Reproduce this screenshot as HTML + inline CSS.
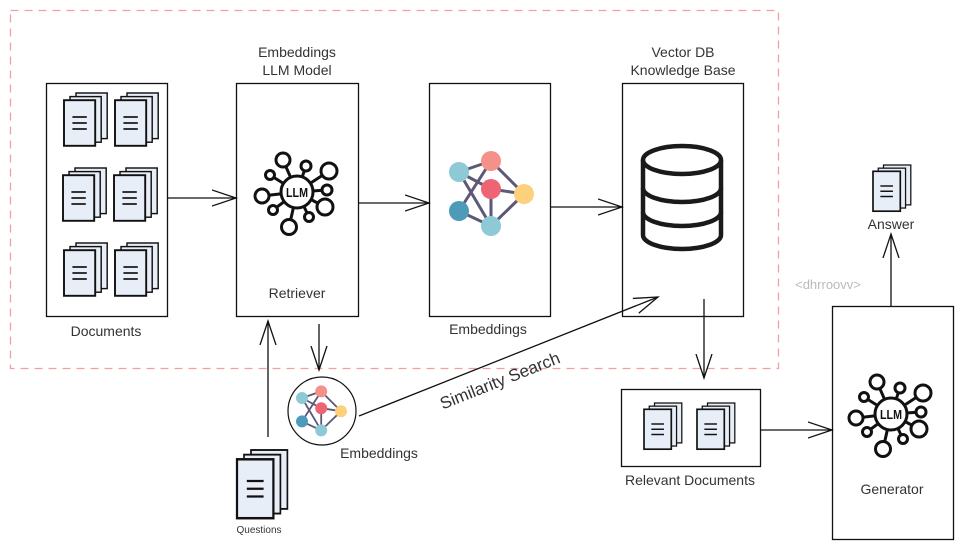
<!DOCTYPE html>
<html><head><meta charset="utf-8"><style>
html,body{margin:0;padding:0;background:#fff;}
svg{display:block;font-family:"Liberation Sans",sans-serif;}
</style></head><body>
<svg width="963" height="558" viewBox="0 0 963 558" xmlns="http://www.w3.org/2000/svg">
<defs>
<g id="doc">
  <rect x="10" y="0" width="26" height="38" fill="#e8eef7" stroke="#111" stroke-width="1.2"/>
  <rect x="5" y="3" width="26" height="38" fill="#e8eef7" stroke="#111" stroke-width="1.2"/>
  <rect x="0" y="6" width="26" height="38" fill="#e8eef7" stroke="#111" stroke-width="1.6"/>
  <line x1="7" y1="20" x2="19" y2="20" stroke="#111" stroke-width="1.4"/>
  <line x1="7" y1="25" x2="19" y2="25" stroke="#111" stroke-width="1.4"/>
  <line x1="7" y1="30" x2="19" y2="30" stroke="#111" stroke-width="1.4"/>
</g>
<g id="llm" fill="none" stroke="#111" stroke-width="3">
  <line x1="0" y1="0" x2="-14" y2="-32"/><line x1="0" y1="0" x2="9" y2="-26"/>
  <line x1="0" y1="0" x2="32" y2="-21"/><line x1="0" y1="0" x2="30" y2="-2"/>
  <line x1="0" y1="0" x2="28" y2="15"/><line x1="0" y1="0" x2="12" y2="25"/>
  <line x1="0" y1="0" x2="-8" y2="35"/><line x1="0" y1="0" x2="-24" y2="18"/>
  <line x1="0" y1="0" x2="-35" y2="4"/><line x1="0" y1="0" x2="-27" y2="-17"/>
  <circle r="16" fill="#fff"/>
  <circle cx="-14" cy="-32" r="7" fill="#fff"/><circle cx="9" cy="-26" r="5" fill="#fff"/>
  <circle cx="32" cy="-21" r="8" fill="#fff"/><circle cx="30" cy="-2" r="5" fill="#fff"/>
  <circle cx="28" cy="15" r="8" fill="#fff"/><circle cx="12" cy="25" r="4.5" fill="#fff"/>
  <circle cx="-8" cy="35" r="7.5" fill="#fff"/><circle cx="-24" cy="18" r="4.5" fill="#fff"/>
  <circle cx="-35" cy="4" r="7" fill="#fff"/><circle cx="-27" cy="-17" r="4.5" fill="#fff"/>
  <text x="0" y="5" text-anchor="middle" font-size="13" font-weight="bold" fill="#111" stroke="none" textLength="22" lengthAdjust="spacingAndGlyphs">LLM</text>
</g>
<g id="emb">
  <g stroke="#5e5878" stroke-width="3">
    <line x1="0" y1="0" x2="32" y2="-11"/><line x1="0" y1="0" x2="32" y2="17"/>
    <line x1="32" y1="-11" x2="0" y2="39"/><line x1="32" y1="-11" x2="65" y2="22"/>
    <line x1="32" y1="17" x2="65" y2="22"/><line x1="32" y1="17" x2="32" y2="54"/>
    <line x1="0" y1="39" x2="32" y2="54"/><line x1="32" y1="54" x2="65" y2="22"/>
    <line x1="0" y1="0" x2="32" y2="54"/>
  </g>
  <circle cx="0" cy="0" r="10" fill="#8ecad6"/>
  <circle cx="32" cy="-11" r="10" fill="#f4928a"/>
  <circle cx="32" cy="17" r="10" fill="#ef6474"/>
  <circle cx="65" cy="22" r="10" fill="#fdd07c"/>
  <circle cx="0" cy="39" r="10" fill="#4d9bb8"/>
  <circle cx="32" cy="54" r="10" fill="#8ecad6"/>
</g>
<marker id="ar" markerWidth="26" markerHeight="18" refX="24" refY="9" orient="auto" markerUnits="userSpaceOnUse">
  <path d="M0,1 L24,9 L0,17" fill="none" stroke="#111" stroke-width="1.3"/>
</marker>
</defs>

<rect x="10.5" y="10.5" width="768" height="358" fill="none" stroke="#f0a0a0" stroke-width="1.3" stroke-dasharray="8,6"/>

<rect x="46.5" y="83.5" width="121" height="233" fill="none" stroke="#111" stroke-width="1.3"/>
<rect x="236.5" y="83.5" width="122" height="233" fill="none" stroke="#111" stroke-width="1.3"/>
<rect x="429.5" y="83.5" width="121" height="233" fill="none" stroke="#111" stroke-width="1.3"/>
<rect x="622.5" y="83.5" width="121" height="233" fill="none" stroke="#111" stroke-width="1.3"/>
<rect x="621.5" y="389.5" width="139" height="77" fill="none" stroke="#111" stroke-width="1.3"/>
<rect x="832.5" y="306.5" width="121" height="233" fill="none" stroke="#111" stroke-width="1.3"/>

<use href="#doc" transform="translate(64 93) scale(1.2)"/>
<use href="#doc" transform="translate(115 93) scale(1.2)"/>
<use href="#doc" transform="translate(63 168) scale(1.2)"/>
<use href="#doc" transform="translate(114 168) scale(1.2)"/>
<use href="#doc" transform="translate(64 243) scale(1.2)"/>
<use href="#doc" transform="translate(115 243) scale(1.2)"/>
<use href="#doc" transform="translate(644 403) scale(1.05)"/>
<use href="#doc" transform="translate(697 403) scale(1.05)"/>
<use href="#doc" transform="translate(873 165) scale(1.05)"/>
<use href="#doc" transform="translate(237 450) scale(1.4 1.55)"/>

<use href="#llm" x="297" y="192"/>
<use href="#llm" x="891" y="414"/>
<use href="#emb" x="459" y="172"/>
<g transform="translate(322 411)">
  <circle r="34" fill="#fff" stroke="#111" stroke-width="1.2"/>
  <use href="#emb" transform="translate(-20 -13) scale(0.6)"/>
</g>

<g fill="none" stroke="#1a1a1a" stroke-width="4.5">
  <path d="M643,160 L643,235 A39,14 0 0 0 721,235 L721,160"/>
  <ellipse cx="682" cy="160" rx="39" ry="14"/>
  <path d="M643,188 A39,14 0 0 0 721,188"/>
  <path d="M643,212 A39,14 0 0 0 721,212"/>
</g>

<g stroke="#111" stroke-width="1.3" fill="none" marker-end="url(#ar)">
  <line x1="167" y1="198" x2="236" y2="198"/>
  <line x1="358" y1="203" x2="429" y2="203"/>
  <line x1="550" y1="207" x2="622" y2="207"/>
  <line x1="319" y1="324" x2="319" y2="370"/>
  <line x1="268" y1="437" x2="268" y2="321"/>
  <line x1="359" y1="416" x2="658" y2="297"/>
  <line x1="704" y1="299" x2="704" y2="378"/>
  <line x1="760" y1="430" x2="832" y2="430"/>
  <line x1="891" y1="306" x2="891" y2="234"/>
</g>

<g font-size="14" fill="#333" text-anchor="middle">
  <text x="106" y="336">Documents</text>
  <text x="297" y="57">Embeddings</text>
  <text x="297" y="75">LLM Model</text>
  <text x="297" y="298">Retriever</text>
  <text x="488" y="334">Embeddings</text>
  <text x="683" y="57">Vector DB</text>
  <text x="683" y="75">Knowledge Base</text>
  <text x="379" y="458">Embeddings</text>
  <text x="690" y="485">Relevant Documents</text>
  <text x="892" y="494">Generator</text>
  <text x="891" y="229">Answer</text>
  <text x="259" y="533" font-size="10">Questions</text>
  <text x="828" y="289" font-size="13" fill="#bbb">&lt;dhrroovv&gt;</text>
  <text x="502" y="386" font-size="17" fill="#333" transform="rotate(-21.7 502 386)">Similarity Search</text>
</g>
</svg>
</body></html>
